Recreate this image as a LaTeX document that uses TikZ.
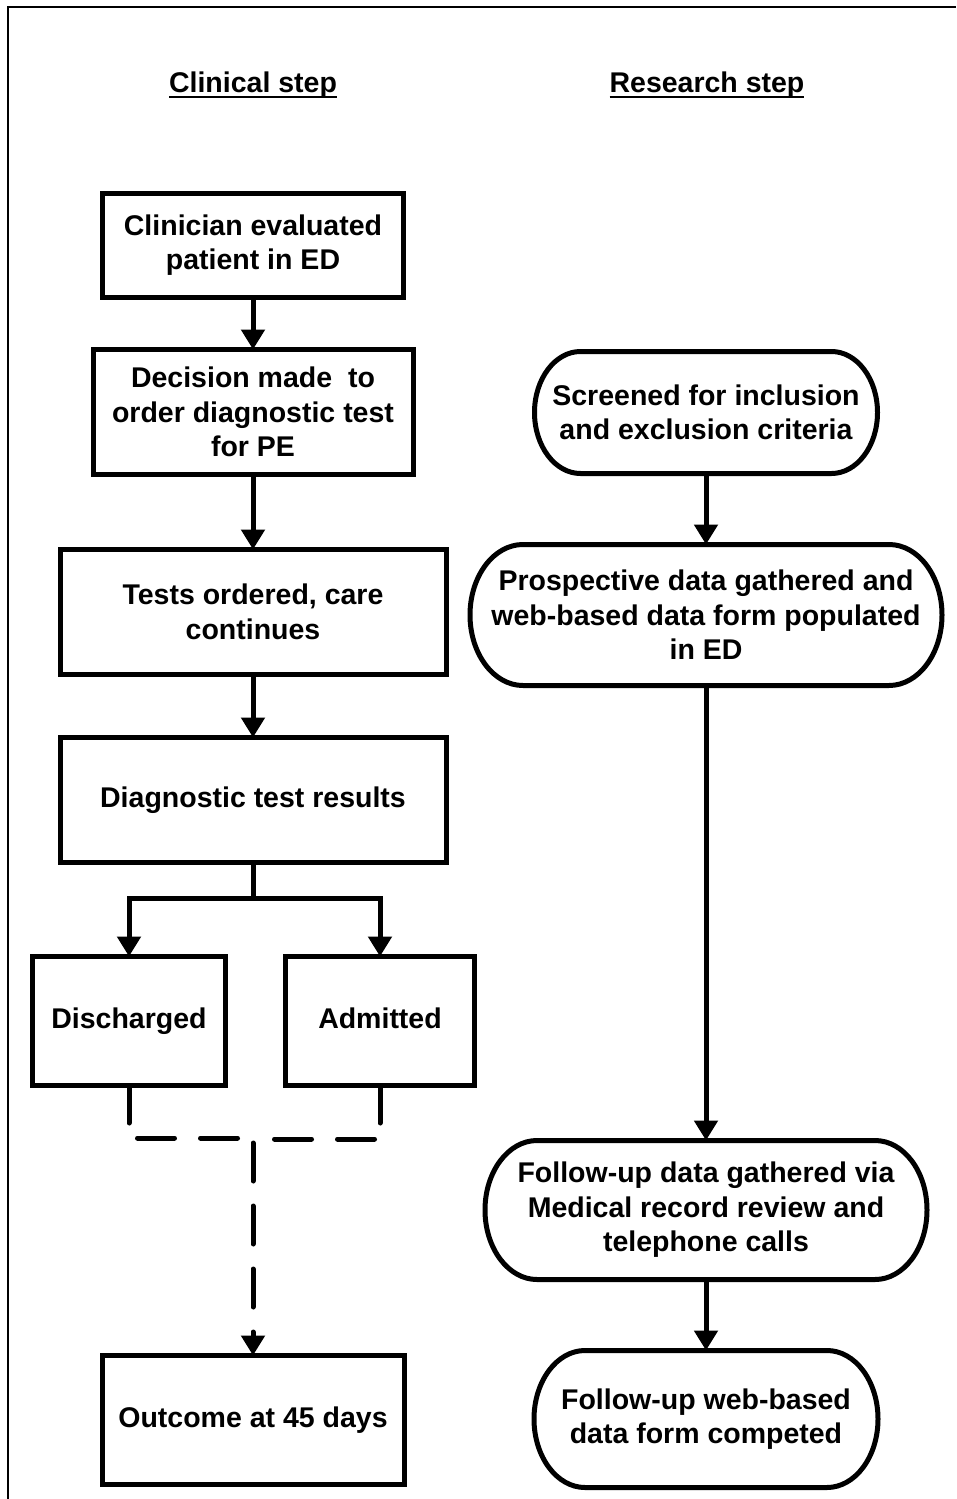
\documentclass[tikz,border=0pt]{standalone}
\usepackage{fontspec}
\setmainfont{Liberation Sans}
\usetikzlibrary{arrows.meta}
\tikzset{
  txt/.style={inner sep=0pt, outer sep=0pt, align=center, font=\fontsize{28.5}{34.5}\selectfont\bfseries},
  box/.style={txt, draw=black, line width=5pt},
  stad/.style={txt},
  hdr/.style={inner sep=0pt, outer sep=0pt, font=\fontsize{28.5}{34.5}\selectfont\bfseries},
  plain/.style={line width=5pt},
  conn/.style={line width=5pt, -{Triangle[width=23pt,length=20pt]}},
  dashconn/.style={line width=5pt, line cap=round, dash pattern=on 37pt off 26pt},
  frame/.style={line width=2pt}
}
\newcommand\stadoutline[3]{%
  \draw[line width=5pt] ([xshift=#2pt]#1.north west) -- ([xshift=-#2pt]#1.north east)
    arc[start angle=90,end angle=-90,x radius=#2pt,y radius=#3pt]
    -- ([xshift=#2pt]#1.south west)
    arc[start angle=270,end angle=90,x radius=#2pt,y radius=#3pt] -- cycle;}
\begin{document}
\begin{tikzpicture}[x=1pt,y=-1pt]
\useasboundingbox (0,0) rectangle (956,1499);
% frame
\draw[frame] (8,1499) -- (8,7) -- (956,7);
% headers
\node[hdr, anchor=base] (hc) at (253,92) {Clinical step};
\node[hdr, anchor=base] (hr) at (707,92) {Research step};
\draw[line width=2.5pt] ([yshift=-5pt]hc.base west) -- ([yshift=-5pt]hc.base east);
\draw[line width=2.5pt] ([yshift=-5pt]hr.base west) -- ([yshift=-5pt]hr.base east);
% left column
\node[box, minimum width=301pt, minimum height=104pt] (b1) at (253,245) {Clinician evaluated\\patient in ED};
\node[box, minimum width=320pt, minimum height=125pt] (b2) at (253,412) {Decision made \ to\\order diagnostic test\\for PE};
\node[box, minimum width=386pt, minimum height=125pt] (b3) at (253,612) {Tests ordered, care\\continues};
\node[box, minimum width=386pt, minimum height=125pt] (b4) at (253,800) {Diagnostic test results};
\node[box, minimum width=193pt, minimum height=129pt] (dis) at (129,1021) {\vphantom{Dg}Discharged};
\node[box, minimum width=189pt, minimum height=129pt] (adm) at (380,1021) {\vphantom{Dg}Admitted};
\node[box, minimum width=302pt, minimum height=129pt] (out) at (253,1420) {Outcome at 45 days};
% right column
\node[stad, minimum width=343pt, minimum height=122pt] (r1) at (706,412.5) {Screened for inclusion\\and exclusion criteria};
\node[stad, minimum width=472pt, minimum height=141pt] (r2) at (706,615) {Prospective data gathered and\\web-based data form populated\\in ED};
\node[stad, minimum width=442pt, minimum height=139pt] (r3) at (706,1210) {Follow-up data gathered via\\Medical record review and\\telephone calls};
\node[stad, minimum width=344pt, minimum height=137pt] (r4) at (706,1419) {Follow-up web-based\\data form competed};
\stadoutline{r1}{46}{61}
\stadoutline{r2}{53}{70.5}
\stadoutline{r3}{52}{69.5}
\stadoutline{r4}{51}{68.5}
% left connectors
\draw[conn] (b1.south) -- (b2.north);
\draw[conn] (b2.south) -- (b3.north);
\draw[conn] (b3.south) -- (b4.north);
\coordinate (br) at (253,898);
\draw[conn] (b4.south) -- (br) -| (dis.north);
\draw[conn] (b4.south) -- (br) -| (adm.north);
\coordinate (sl) at (129,1123);
\coordinate (sr) at (380,1123);
\draw[plain, line cap=round] (dis.south) -- (sl);
\draw[plain, line cap=round] (adm.south) -- (sr);
\coordinate (jc) at (253,1138);
\coordinate (jl) at (135,1138);
\coordinate (jr) at (375,1139);
\coordinate (jcr) at (253,1139);
\draw[dashconn, dash phase=47.5pt] (jc) -- (jl);
\draw[dashconn, dash phase=41.5pt] (jcr) -- (jr);
\coordinate (vc) at (253,1143);
\draw[line width=5pt, line cap=round, dash pattern=on 38pt off 25pt, -{Triangle[width=23pt,length=20pt]}] (vc) -- (out.north);
% right connectors
\draw[conn] (r1.south) -- (r2.north);
\draw[conn] (r2.south) -- (r3.north);
\draw[conn] (r3.south) -- (r4.north);
\end{tikzpicture}
\end{document}
